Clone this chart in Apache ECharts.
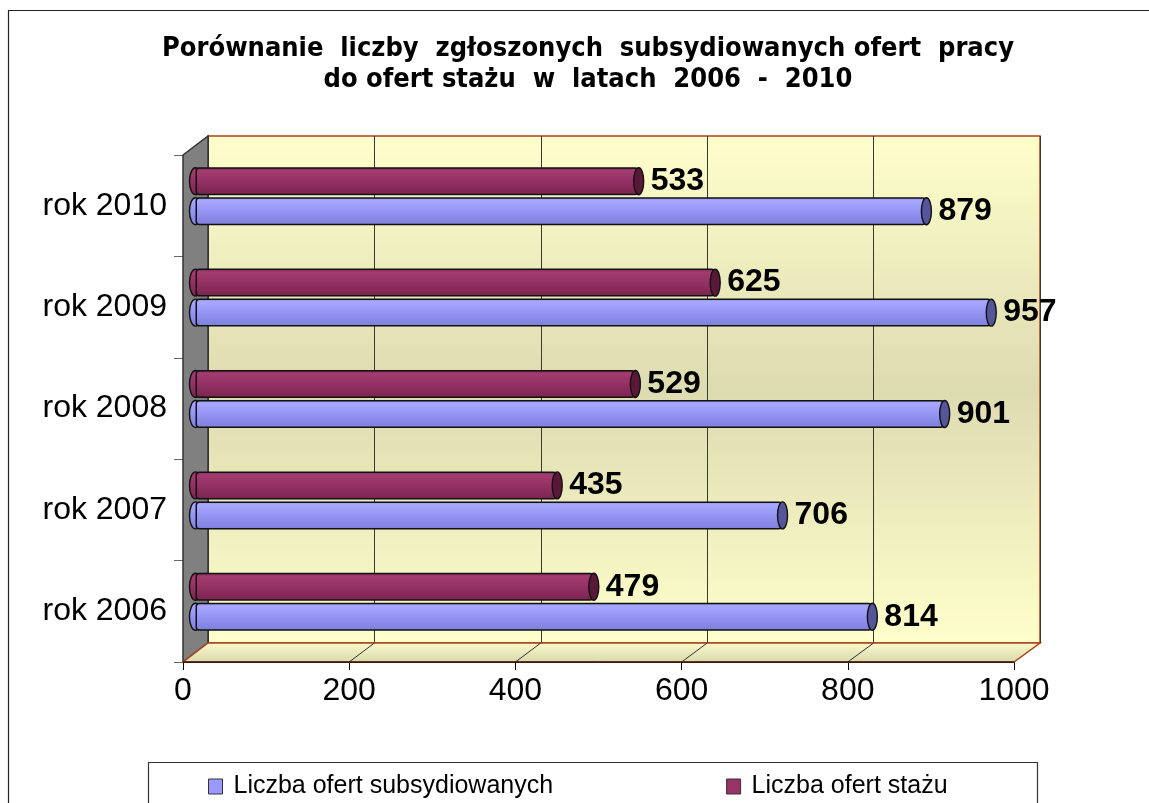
<!DOCTYPE html>
<html><head><meta charset="utf-8">
<script src="https://cdn.jsdelivr.net/npm/echarts@6/dist/echarts.min.js"></script>
<style>html,body{margin:0;padding:0;background:#fff}#c{width:1149px;height:803px}</style>
</head><body><div id="c"></div>
<script>
// ---- data ----
const categories = ['rok 2006', 'rok 2007', 'rok 2008', 'rok 2009', 'rok 2010'];
const subsydiowane = [814, 706, 901, 957, 879];
const staz = [479, 435, 529, 625, 533];
const xTicks = [0, 200, 400, 600, 800, 1000];
const seriesNames = ['Liczba ofert subsydiowanych', 'Liczba ofert stażu'];
const titleText = 'Porównanie  liczby  zgłoszonych  subsydiowanych ofert  pracy\ndo ofert stażu  w  latach  2006  -  2010';

// ---- styles ----
const FONT = 'Liberation Sans, Arial, sans-serif';
const blueGrad = new echarts.graphic.LinearGradient(0, 0, 0, 1, [
  {offset: 0, color: '#8c8ce6'}, {offset: 0.12, color: '#a8a8ff'},
  {offset: 0.5, color: '#9494f4'}, {offset: 1, color: '#7e7edb'}]);
const maroonGrad = new echarts.graphic.LinearGradient(0, 0, 0, 1, [
  {offset: 0, color: '#7c2452'}, {offset: 0.12, color: '#a33c70'},
  {offset: 0.5, color: '#943164'}, {offset: 1, color: '#7a2350'}]);
const wallGrad = new echarts.graphic.LinearGradient(0, 0, 0, 1, [
  {offset: 0, color: '#ffffcc'}, {offset: 0.5, color: '#dddbb0'}, {offset: 1, color: '#ffffcc'}]);
const floorGrad = new echarts.graphic.LinearGradient(0, 0, 0, 1, [
  {offset: 0, color: '#fbfbcc'}, {offset: 1, color: '#d9d8ab'}]);

const chart = echarts.init(document.getElementById('c'), null, {renderer: 'canvas'});

const labelStyle = {
  show: true, position: 'right', distance: 12,
  fontFamily: FONT, fontWeight: 'bold', fontSize: 32, color: '#000'
};

const capData = [];
categories.forEach((c, i) => {
  capData.push([subsydiowane[i], i, 1]);
  capData.push([staz[i], i, 0]);
});

function capSeries(atStart, z) {
  return {type: 'custom', xAxisIndex: 2, yAxisIndex: 2, data: capData, z: z, silent: true,
    renderItem: function (params, api) {
      const v = atStart ? 0 : api.value(0);
      const p = api.coord([v, api.value(1)]);
      const which = api.value(2);
      const off = which === 1 ? 15 : -15;
      let fill;
      if (atStart) fill = which === 1 ? blueGrad : maroonGrad;
      else fill = which === 1 ? '#55559a' : '#5a1838';
      return {
        type: 'ellipse',
        shape: {cx: p[0], cy: p[1] + off, rx: atStart ? 6 : 5, ry: 13.5},
        style: {fill: fill, stroke: '#111', lineWidth: 1.4}
      };
    }};
}

const option = {
  animation: false,
  backgroundColor: '#fff',
  title: {
    text: titleText,
    left: 583, top: 28, textAlign: 'center',
    textStyle: {fontFamily: 'DejaVu Sans Condensed, DejaVu Sans, sans-serif', fontWeight: 'bold',
      fontSize: 27, lineHeight: 31, color: '#000'}
  },
  legend: {
    data: [
      {name: seriesNames[0], itemStyle: {color: '#9999ff', borderColor: '#333', borderWidth: 1}},
      {name: seriesNames[1], itemStyle: {color: '#993366', borderColor: '#333', borderWidth: 1}}
    ],
    left: 208, top: 774, padding: 0, icon: 'rect', itemWidth: 14, itemHeight: 15, itemGap: 173,
    textStyle: {fontFamily: FONT, fontSize: 25, color: '#000', padding: [0, 0, 0, 6]}
  },
  grid: [
    {left: 183, right: 135, top: 155, bottom: 141, containLabel: false},
    {left: 208, right: 109, top: 136, bottom: 160, show: true, backgroundColor: wallGrad,
      borderColor: '#a8441a', borderWidth: 1.5, z: -1},
    {left: 195.5, right: 122, top: 145.5, bottom: 150.5}
  ],
  xAxis: [
    {gridIndex: 0, type: 'value', min: 0, max: 1000, interval: 200,
      axisLine: {show: true, lineStyle: {color: '#000', width: 1}},
      axisTick: {show: true, length: 8, lineStyle: {color: '#000'}},
      axisLabel: {fontFamily: FONT, fontSize: 32, color: '#000', margin: 13,
        formatter: function (v) { return String(v); }},
      splitLine: {show: false}},
    {gridIndex: 1, type: 'value', min: 0, max: 1000, interval: 200,
      axisLine: {show: false}, axisTick: {show: false}, axisLabel: {show: false},
      splitLine: {show: true, lineStyle: {color: '#3a3a2e', width: 1}}},
    {gridIndex: 2, type: 'value', min: 0, max: 1000, interval: 200, show: false}
  ],
  yAxis: [
    {gridIndex: 0, type: 'category', data: categories,
      axisLine: {show: false},
      axisTick: {show: true, length: 9, lineStyle: {color: '#666'}},
      axisLabel: {fontFamily: FONT, fontSize: 32, color: '#000', margin: 16}},
    {gridIndex: 1, type: 'category', data: categories, show: false},
    {gridIndex: 2, type: 'category', data: categories, show: false}
  ],
  series: [
    {name: seriesNames[1], type: 'bar', xAxisIndex: 2, yAxisIndex: 2, data: staz,
      barWidth: 28, barGap: '7%',
      itemStyle: {color: maroonGrad, borderColor: '#111', borderWidth: 1.5, borderRadius: 3},
      label: labelStyle, z: 3},
    {name: seriesNames[0], type: 'bar', xAxisIndex: 2, yAxisIndex: 2, data: subsydiowane,
      barWidth: 28, barGap: '7%',
      itemStyle: {color: blueGrad, borderColor: '#111', borderWidth: 1.5, borderRadius: 3},
      label: labelStyle, z: 3},
    capSeries(true, 2),
    capSeries(false, 4)
  ]
};
chart.setOption(option);

// ---- 3D decorations positioned through the axes ----
const fx0 = chart.convertToPixel({xAxisIndex: 0}, 0), fx1 = chart.convertToPixel({xAxisIndex: 0}, 1000);
const bx0 = chart.convertToPixel({xAxisIndex: 1}, 0), bx1 = chart.convertToPixel({xAxisIndex: 1}, 1000);
const fTop = 155, fBot = 803 - 141, bTop = 136, bBot = 803 - 160;

const graphics = [
  {type: 'rect', shape: {x: 8.5, y: 10.5, width: 1300, height: 1000}, style: {fill: 'none', stroke: '#222', lineWidth: 1.2}, z: -10},
  {type: 'rect', shape: {x: 148.5, y: 762.5, width: 889, height: 100}, style: {fill: '#fff', stroke: '#333', lineWidth: 1.2}, z: -5},
  {type: 'polygon', shape: {points: [[fx0, fTop], [bx0, bTop], [bx0, bBot], [fx0, fBot]]},
    style: {fill: '#808080', stroke: '#333', lineWidth: 1.5}, z: 1},
  {type: 'polygon', shape: {points: [[fx0, fBot], [bx0, bBot], [bx1, bBot], [fx1, fBot]]},
    style: {fill: floorGrad, stroke: '#a8441a', lineWidth: 1.5}, z: 1},
  {type: 'line', shape: {x1: fx0, y1: fBot, x2: fx1, y2: fBot}, style: {stroke: '#000', lineWidth: 1}, z: 2}
];
xTicks.forEach(t => {
  if (t === 0 || t === 1000) return;
  const a = chart.convertToPixel({xAxisIndex: 0}, t), b = chart.convertToPixel({xAxisIndex: 1}, t);
  graphics.push({type: 'line', shape: {x1: a, y1: fBot, x2: b, y2: bBot}, style: {stroke: '#333', lineWidth: 1}, z: 1});
});
chart.setOption({graphic: graphics});
</script>
</body></html>
